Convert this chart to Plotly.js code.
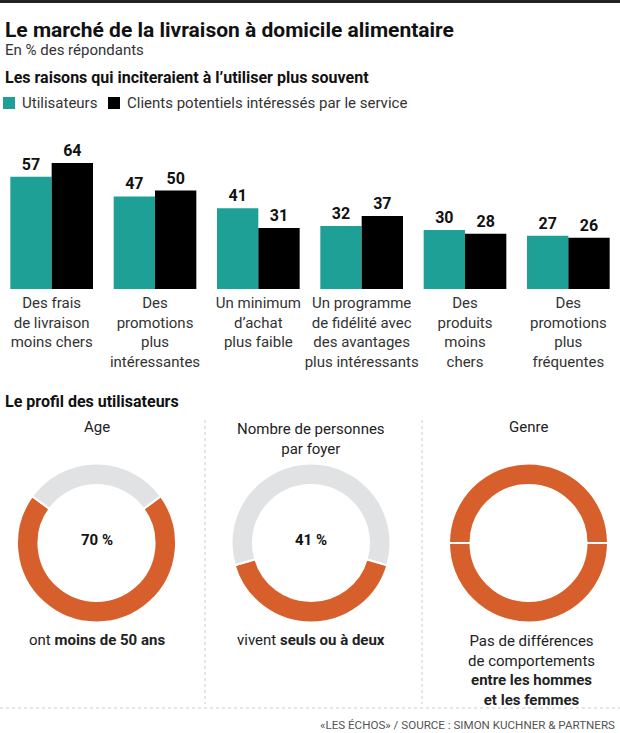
<!DOCTYPE html>
<html>
<head>
<meta charset="utf-8">
<script src="https://cdn.plot.ly/plotly-3.0.1.min.js"></script>
<style>html,body{margin:0;padding:0;background:#fff;}#chart{width:620px;height:733px;}</style>
</head>
<body>
<div id="chart"></div>
<script>
// ---- data ----
var categories = [
  "Des frais<br>de livraison<br>moins chers",
  "Des<br>promotions<br>plus<br>intéressantes",
  "Un minimum<br>d’achat<br>plus faible",
  "Un programme<br>de fidélité avec<br>des avantages<br>plus intéressants",
  "Des<br>produits<br>moins<br>chers",
  "Des<br>promotions<br>plus<br>fréquentes"
];
var seriesNames = ["Utilisateurs", "Clients potentiels intéressés par le service"];
var utilisateurs = [57, 47, 41, 32, 30, 27];
var clientsPotentiels = [64, 50, 31, 37, 28, 26];

var ageValues = [70, 30];          // moins de 50 ans / autres
var foyerValues = [41, 59];        // seuls ou à deux / autres
var genreValues = [50, 50];        // hommes / femmes

var W = 620, H = 733;
function px(x){ return x / W; }
function py(y){ return 1 - y / H; }

var TEAL = "#1fa096", BLACK = "#000000", ORANGE = "#d75f2b", GRAY = "#e1e2e4";
var FONT = "Roboto, 'Open Sans', sans-serif";

var baseY = 289, topY = 140, pxPerUnit = 1.97;

function pieDomain(cx, cy, r){
  return {x: [px(cx - r), px(cx + r)], y: [py(cy + r), py(cy - r)]};
}

var traces = [
  {type: "bar", name: seriesNames[0], x: categories, y: utilisateurs,
   marker: {color: TEAL}, texttemplate: "<b>%{y}</b>", textposition: "outside",
   textfont: {family: FONT, size: 16, color: "#111"}, cliponaxis: false, hoverinfo: "skip"},
  {type: "bar", name: seriesNames[1], x: categories, y: clientsPotentiels,
   marker: {color: BLACK}, texttemplate: "<b>%{y}</b>", textposition: "outside",
   textfont: {family: FONT, size: 16, color: "#111"}, cliponaxis: false, hoverinfo: "skip"},
  {type: "pie", values: ageValues, labels: ["Moins de 50 ans", "50 ans et plus"],
   marker: {colors: [ORANGE, GRAY], line: {color: "#fff", width: 2}},
   hole: 0.73, sort: false, direction: "clockwise", rotation: 54,
   textinfo: "none", hoverinfo: "skip", domain: pieDomain(96.5, 543, 79.5)},
  {type: "pie", values: foyerValues, labels: ["Seuls ou à deux", "Trois et plus"],
   marker: {colors: [ORANGE, GRAY], line: {color: "#fff", width: 2}},
   hole: 0.73, sort: false, direction: "clockwise", rotation: 106.2,
   textinfo: "none", hoverinfo: "skip", domain: pieDomain(311, 543, 79.5)},
  {type: "pie", values: genreValues, labels: ["Hommes", "Femmes"],
   marker: {colors: [ORANGE, ORANGE], line: {color: "#fff", width: 2}},
   hole: 0.73, sort: false, direction: "clockwise", rotation: 90,
   textinfo: "none", hoverinfo: "skip", domain: pieDomain(528.5, 543, 79.5)}
];

function ann(text, x, y, opts){
  var a = {text: text, x: px(x), y: py(y), xref: "paper", yref: "paper",
    showarrow: false, xanchor: "left", yanchor: "middle",
    font: {family: FONT, size: 15, color: "#222"}};
  for (var k in opts){ a[k] = opts[k]; }
  return a;
}

var annotations = [
  ann("<b>Le marché de la livraison à domicile alimentaire</b>", 3, 30, {font: {family: FONT, size: 21, color: "#111"}}),
  ann("En % des répondants", 3, 50, {font: {family: FONT, size: 15, color: "#333"}}),
  ann("<b>Les raisons qui inciteraient à l’utiliser plus souvent</b>", 3, 78, {font: {family: FONT, size: 16, color: "#111"}}),
  ann(seriesNames[0], 20, 103, {font: {family: FONT, size: 15, color: "#333"}}),
  ann(seriesNames[1], 125, 103, {font: {family: FONT, size: 15, color: "#333"}}),
  ann("<b>Le profil des utilisateurs</b>", 3, 401, {font: {family: FONT, size: 16, color: "#111"}}),
  ann("Age", 96.5, 427, {xanchor: "center"}),
  ann("Nombre de personnes<br>par foyer", 311, 418, {xanchor: "center", yanchor: "top"}),
  ann("Genre", 528.5, 427, {xanchor: "center"}),
  ann("<b>70 %</b>", 96.5, 540, {xanchor: "center", font: {family: FONT, size: 15, color: "#111"}}),
  ann("<b>41 %</b>", 311, 540, {xanchor: "center", font: {family: FONT, size: 15, color: "#111"}}),
  ann("ont <b>moins de 50 ans</b>", 96.5, 640, {xanchor: "center"}),
  ann("vivent <b>seuls ou à deux</b>", 311, 640, {xanchor: "center"}),
  ann("Pas de différences<br>de comportements<br><b>entre les hommes</b><br><b>et les femmes</b>", 531, 630, {xanchor: "center", yanchor: "top"}),
  ann("«LES ÉCHOS» / SOURCE : SIMON KUCHNER & PARTNERS", 617, 725, {xanchor: "right", font: {family: FONT, size: 11.6, color: "#555"}})
];

var shapes = [
  {type: "rect", xref: "paper", yref: "paper", x0: 0, x1: 1, y0: py(3), y1: 1, fillcolor: "#222", line: {width: 0}},
  {type: "rect", xref: "paper", yref: "paper", x0: px(3), x1: px(15), y0: py(109), y1: py(97), fillcolor: TEAL, line: {width: 0}},
  {type: "rect", xref: "paper", yref: "paper", x0: px(108), x1: px(120), y0: py(109), y1: py(97), fillcolor: BLACK, line: {width: 0}},
  {type: "line", xref: "paper", yref: "paper", x0: px(205), x1: px(205), y0: py(420), y1: py(704), line: {color: "#cccccc", width: 1, dash: "dot"}},
  {type: "line", xref: "paper", yref: "paper", x0: px(422), x1: px(422), y0: py(420), y1: py(704), line: {color: "#cccccc", width: 1, dash: "dot"}},
  {type: "line", xref: "paper", yref: "paper", x0: 0, x1: 1, y0: py(708), y1: py(708), line: {color: "#cccccc", width: 1, dash: "dot"}}
];

var layout = {
  width: W, height: H,
  margin: {l: 0, r: 0, t: 0, b: 0, autoexpand: false},
  paper_bgcolor: "#fff", plot_bgcolor: "#fff",
  font: {family: FONT, color: "#222"},
  barmode: "group", bargap: 0.2, bargroupgap: 0,
  showlegend: false,
  xaxis: {domain: [0, 1], range: [-0.5, 5.5], type: "category", fixedrange: true, automargin: false,
    showgrid: false, zeroline: false, showline: false, ticks: "", tickangle: 0, ticklabelstandoff: 3,
    tickfont: {family: FONT, size: 15, color: "#333"}},
  yaxis: {domain: [py(baseY), py(topY)], range: [0, (baseY - topY) / pxPerUnit], visible: false, fixedrange: true, automargin: false},
  annotations: annotations,
  shapes: shapes
};

Plotly.newPlot("chart", traces, layout, {displayModeBar: false, staticPlot: true});
</script>
</body>
</html>
